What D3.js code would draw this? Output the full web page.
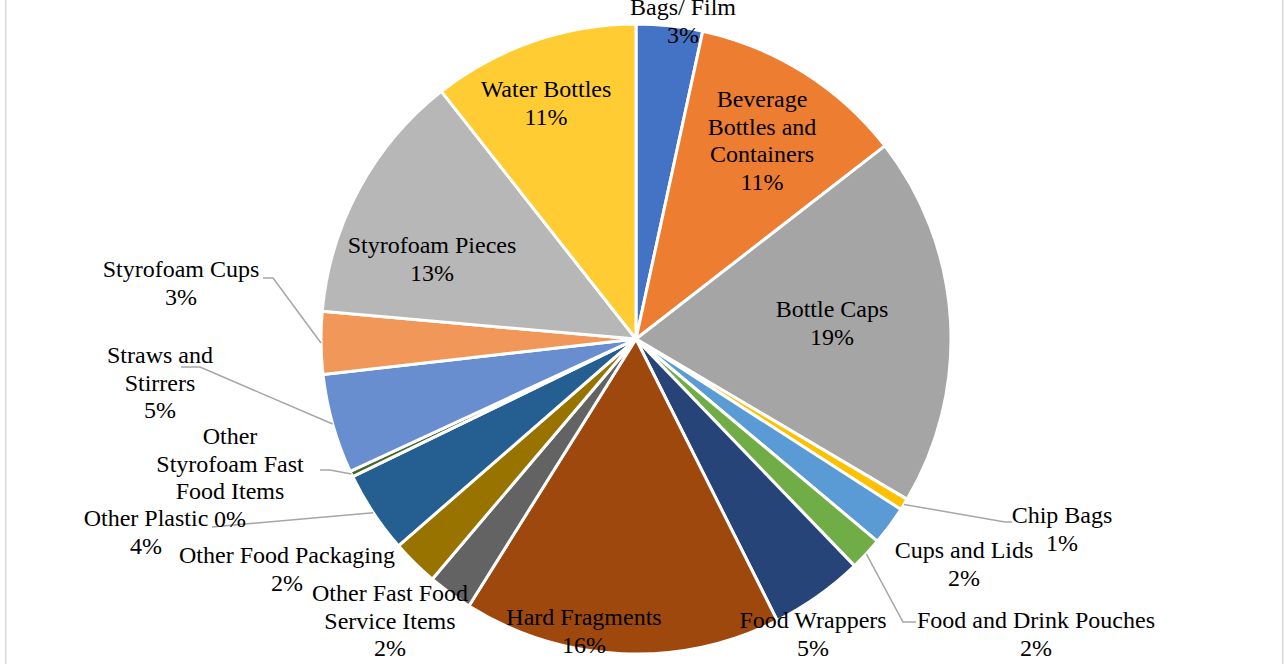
<!DOCTYPE html>
<html>
<head>
<meta charset="utf-8">
<script src="https://cdn.jsdelivr.net/npm/d3@7"></script>
<style>
  html, body { margin: 0; padding: 0; background: #ffffff; }
  svg { display: block; }
  text { font-family: "Liberation Serif", "Times New Roman", serif; font-size: 24px; fill: #000000; }
</style>
</head>
<body>
<svg id="chart" width="1284" height="664"></svg>
<script>
// Share of collected debris items by category (percent)
const categories = [
  "Bags/ Film", "Beverage Bottles and Containers", "Bottle Caps", "Chip Bags",
  "Cups and Lids", "Food and Drink Pouches", "Food Wrappers", "Hard Fragments",
  "Other Fast Food Service Items", "Other Food Packaging", "Other Plastic",
  "Other Styrofoam Fast Food Items", "Straws and Stirrers", "Styrofoam Cups",
  "Styrofoam Pieces", "Water Bottles"
];
const shares = [3.4, 11.1, 19.0, 0.6, 2.0, 1.7, 4.8, 16.3, 2.3, 2.4, 4.2, 0.3, 5.1, 3.2, 13.0, 10.6];
const sliceColors = [
  "#4472C4", "#ED7D31", "#A5A5A5", "#FFC000", "#5B9BD5", "#70AD47", "#264478", "#9E480E",
  "#636363", "#997300", "#255E91", "#43682B", "#698ED0", "#F1975A", "#B7B7B7", "#FFCD33"
];

// Label placement: line breaks, text centre, first baseline, and leader line start
const labelLayout = {
  "Bags/ Film": { lines: ["Bags/ Film"], x: 683, y: 15 },
  "Beverage Bottles and Containers": { lines: ["Beverage", "Bottles and", "Containers"], x: 762, y: 107 },
  "Bottle Caps": { lines: ["Bottle Caps"], x: 832, y: 317 },
  "Chip Bags": { lines: ["Chip Bags"], x: 1062, y: 523, leader: [[1012, 522], [1005, 522]] },
  "Cups and Lids": { lines: ["Cups and Lids"], x: 964, y: 558 },
  "Food and Drink Pouches": { lines: ["Food and Drink Pouches"], x: 1036, y: 628, leader: [[916, 622], [903, 622]] },
  "Food Wrappers": { lines: ["Food Wrappers"], x: 813, y: 628 },
  "Hard Fragments": { lines: ["Hard Fragments"], x: 584, y: 625 },
  "Other Fast Food Service Items": { lines: ["Other Fast Food", "Service Items"], x: 390, y: 601 },
  "Other Food Packaging": { lines: ["Other Food Packaging"], x: 287, y: 563 },
  "Other Plastic": { lines: ["Other Plastic"], x: 146, y: 526, leader: [[212, 527]] },
  "Other Styrofoam Fast Food Items": { lines: ["Other", "Styrofoam Fast", "Food Items"], x: 230, y: 444, leader: [[320, 470], [330, 470]] },
  "Straws and Stirrers": { lines: ["Straws and", "Stirrers"], x: 160, y: 363, leader: [[181, 367], [200, 367]] },
  "Styrofoam Cups": { lines: ["Styrofoam Cups"], x: 181, y: 277, leader: [[263, 278], [273, 278]] },
  "Styrofoam Pieces": { lines: ["Styrofoam Pieces"], x: 432, y: 253 },
  "Water Bottles": { lines: ["Water Bottles"], x: 546, y: 97 }
};

const width = 1284, height = 664;
const cx = 636, cy = 339, radius = 315;
const lineHeight = 27.5;

const svg = d3.select("#chart");

// chart area frame (only the side edges fall inside the view)
svg.append("rect")
  .attr("x", 5.75).attr("y", -10)
  .attr("width", 1277).attr("height", height + 20)
  .attr("fill", "none")
  .attr("stroke", "#d9d9d9")
  .attr("stroke-width", 1.5);

const data = categories.map((c, i) => ({ name: c, value: shares[i], color: sliceColors[i] }));

const pie = d3.pie().sort(null).value(d => d.value);
const arcs = pie(data);
const arc = d3.arc().innerRadius(0).outerRadius(radius);

const g = svg.append("g").attr("transform", `translate(${cx},${cy})`);

g.selectAll("path.slice")
  .data(arcs)
  .join("path")
  .attr("class", "slice")
  .attr("d", arc)
  .attr("fill", d => d.data.color)
  .attr("stroke", "#ffffff")
  .attr("stroke-width", 3)
  .attr("stroke-linejoin", "round");

// leader lines from outside labels to the slice edge
const edgeArc = d3.arc().innerRadius(radius).outerRadius(radius);
const line = d3.line();
arcs.forEach(a => {
  const lay = labelLayout[a.data.name];
  if (!lay.leader) return;
  const [ex, ey] = edgeArc.centroid(a);
  const pts = lay.leader.concat([[ex + cx, ey + cy]]);
  svg.append("path")
    .attr("d", line(pts))
    .attr("fill", "none")
    .attr("stroke", "#a6a6a6")
    .attr("stroke-width", 1.5);
});

// data labels: category name and rounded percentage
arcs.forEach(a => {
  const lay = labelLayout[a.data.name];
  const rows = lay.lines.concat([Math.round(a.data.value) + "%"]);
  const t = svg.append("text")
    .attr("text-anchor", "middle")
    .attr("x", lay.x)
    .attr("y", lay.y);
  rows.forEach((r, i) => {
    t.append("tspan")
      .attr("x", lay.x)
      .attr("dy", i === 0 ? 0 : lineHeight)
      .text(r);
  });
});
</script>
</body>
</html>
